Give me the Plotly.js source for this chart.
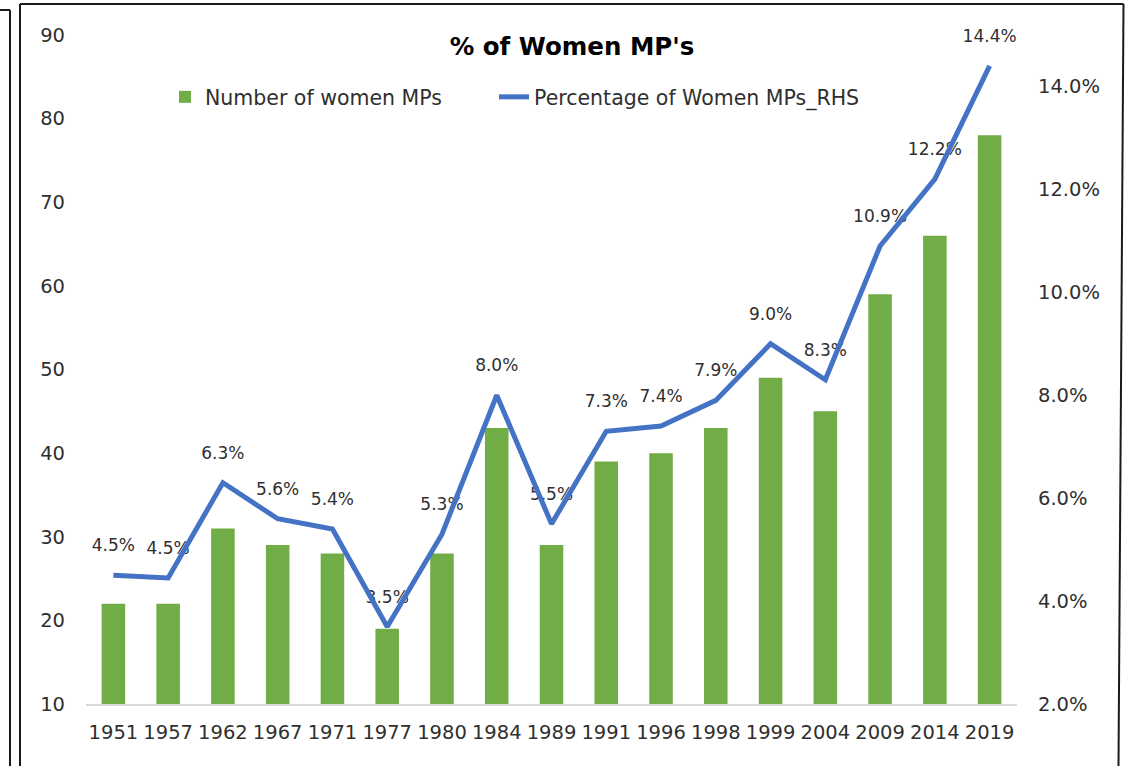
<!DOCTYPE html>
<html>
<head>
<meta charset="utf-8">
<script src="https://cdn.plot.ly/plotly-3.0.1.min.js"></script>
<style>
html,body{margin:0;padding:0;background:#fff;}
#chart{width:1128px;height:766px;}
</style>
</head>
<body>
<div id="chart"></div>
<script>
// ---- data ----
const years = ["1951","1957","1962","1967","1971","1977","1980","1984","1989","1991","1996","1998","1999","2004","2009","2014","2019"];
const womenMPs = [22,22,31,29,28,19,28,43,29,39,40,43,49,45,59,66,78];
const womenPct = [4.5,4.45,6.3,5.6,5.4,3.5,5.3,8.0,5.5,7.3,7.4,7.9,9.0,8.3,10.9,12.2,14.4];
const leftTicks = [10,20,30,40,50,60,70,80,90];
const rightTicks = [2,4,6,8,10,12,14];

// ---- geometry helpers (page pixels -> paper coords) ----
const W = 1128, H = 766;
const M = {l: 86, r: 111, t: 35, b: 62};
const PW = W - M.l - M.r, PH = H - M.t - M.b;
const px = x => (x - M.l) / PW;
const py = y => (H - M.b - y) / PH;

const FONT = "DejaVu Sans, sans-serif";
const TXT = "#2f2f2f";

const bars = {
  type: "bar", name: "Number of women MPs",
  x: years, y: womenMPs,
  marker: {color: "#70AD47"},
  width: 0.43,
  yaxis: "y", legend: "legend"
};
// data labels for the percentage line (drawn beneath the line)
const pctLabels = {
  type: "scatter", mode: "markers+text", showlegend: false,
  x: years, y: womenPct, yaxis: "y2",
  text: womenPct.map(v => v.toFixed(1) + "%"),
  textposition: "top center",
  textfont: {family: FONT, size: 17, color: TXT},
  marker: {size: 30, color: "rgba(0,0,0,0)", line: {width: 0}},
  cliponaxis: false,
  hoverinfo: "skip"
};
const line = {
  type: "scatter", mode: "lines", name: "Percentage of Women MPs_RHS",
  x: years, y: womenPct, yaxis: "y2", legend: "legend2",
  line: {color: "#4472C4", width: 5}
};

const frameLine = {color: "#1a1a1a", width: 2};
const shapes = [
  {type: "line", xref: "paper", yref: "paper", x0: px(0), x1: px(10), y0: py(10), y1: py(10), line: frameLine},
  {type: "line", xref: "paper", yref: "paper", x0: px(10), x1: px(10), y0: py(10), y1: py(766), line: frameLine},
  {type: "line", xref: "paper", yref: "paper", x0: px(20), x1: px(20), y0: py(4), y1: py(766), line: frameLine},
  {type: "line", xref: "paper", yref: "paper", x0: px(20), x1: px(1123.5), y0: py(4), y1: py(4), line: frameLine},
  {type: "line", xref: "paper", yref: "paper", x0: px(1123.5), x1: px(1118.5), y0: py(4), y1: py(766), line: frameLine}
];

const legendFont = {family: FONT, size: 20.5, color: TXT};

const layout = {
  width: W, height: H,
  margin: M,
  paper_bgcolor: "#ffffff", plot_bgcolor: "#ffffff",
  font: {family: FONT, color: TXT},
  title: {
    text: "<b>% of Women MP's</b>",
    font: {family: FONT, size: 24.5, color: "#000000"},
    xref: "container", yref: "container",
    x: 572 / W, xanchor: "center",
    y: 1 - 46 / H, yanchor: "middle"
  },
  showlegend: true,
  legend: {
    orientation: "h",
    x: px(165), xanchor: "left",
    y: py(97), yanchor: "middle",
    font: legendFont,
    bgcolor: "rgba(0,0,0,0)"
  },
  legend2: {
    orientation: "h",
    x: px(494), xanchor: "left",
    y: py(97), yanchor: "middle",
    font: legendFont,
    bgcolor: "rgba(0,0,0,0)"
  },
  xaxis: {
    type: "category",
    range: [-0.5, years.length - 0.5],
    showgrid: false, zeroline: false,
    showline: true, linecolor: "#d9d9d9", linewidth: 2,
    ticks: "", ticklabelstandoff: 10,
    tickfont: {family: FONT, size: 19.5, color: TXT},
    fixedrange: true
  },
  yaxis: {
    range: [10, 90],
    tickmode: "array", tickvals: leftTicks,
    ticktext: leftTicks.map(String),
    showgrid: false, zeroline: false, showline: false,
    ticks: "", ticklabelstandoff: 20,
    tickfont: {family: FONT, size: 19.5, color: TXT},
    fixedrange: true
  },
  yaxis2: {
    overlaying: "y", side: "right",
    range: [2, 15],
    tickmode: "array", tickvals: rightTicks,
    ticktext: rightTicks.map(v => v.toFixed(1) + "%"),
    showgrid: false, zeroline: false, showline: false,
    ticks: "", ticklabelstandoff: 20,
    tickfont: {family: FONT, size: 19.5, color: TXT},
    fixedrange: true
  },
  bargap: 0.57,
  shapes: shapes
};

Plotly.newPlot("chart", [bars, pctLabels, line], layout, {displayModeBar: false, staticPlot: true});
</script>
</body>
</html>
